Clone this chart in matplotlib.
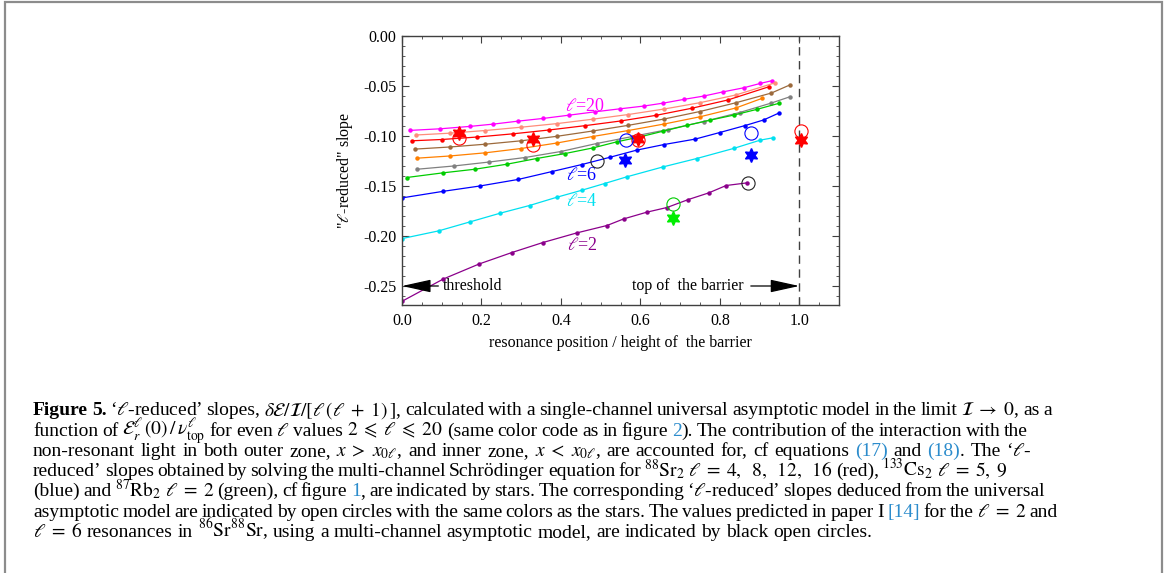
import numpy as np
import matplotlib
matplotlib.use("Agg")
import matplotlib.pyplot as plt
from matplotlib.patches import Rectangle, FancyArrowPatch
from matplotlib.ticker import MultipleLocator, FormatStrFormatter

plt.rcParams["font.family"] = ["Liberation Serif", "DejaVu Serif"]
plt.rcParams["mathtext.fontset"] = "stix"
plt.rcParams["axes.unicode_minus"] = True

# --- curves of the universal asymptotic model (even l) ---
x_l20 = [0.020, 0.096, 0.171, 0.230, 0.293, 0.356, 0.420, 0.486, 0.549, 0.608, 0.658, 0.709, 0.759, 0.809, 0.860, 0.902, 0.931]
y_l20 = [-0.0944, -0.0928, -0.0904, -0.0881, -0.0851, -0.0824, -0.0792, -0.0758, -0.0728, -0.0701, -0.0671, -0.0634, -0.0601, -0.0558, -0.0518, -0.0474, -0.0447]

x_l18 = [0.035, 0.120, 0.210, 0.300, 0.390, 0.480, 0.570, 0.660, 0.750, 0.840, 0.940]
y_l18 = [-0.0990, -0.0972, -0.0945, -0.0912, -0.0876, -0.0832, -0.0785, -0.0730, -0.0667, -0.0590, -0.0467]

x_l16 = [0.024, 0.100, 0.190, 0.280, 0.370, 0.460, 0.550, 0.640, 0.730, 0.820, 0.924]
y_l16 = [-0.1048, -0.1035, -0.1010, -0.0978, -0.0940, -0.0897, -0.0850, -0.0793, -0.0722, -0.0640, -0.0507]

x_l14 = [0.033, 0.120, 0.210, 0.300, 0.390, 0.480, 0.570, 0.660, 0.750, 0.840, 0.930, 0.976]
y_l14 = [-0.1131, -0.1110, -0.1082, -0.1048, -0.1003, -0.0950, -0.0893, -0.0830, -0.0755, -0.0668, -0.0570, -0.0490]

x_l12 = [0.037, 0.120, 0.210, 0.300, 0.390, 0.480, 0.570, 0.660, 0.750, 0.840, 0.906]
y_l12 = [-0.1222, -0.1200, -0.1168, -0.1125, -0.1070, -0.1005, -0.0945, -0.0880, -0.0808, -0.0720, -0.0624]

x_l10 = [0.039, 0.130, 0.220, 0.310, 0.400, 0.490, 0.580, 0.670, 0.760, 0.850, 0.930, 0.977]
y_l10 = [-0.1332, -0.1300, -0.1260, -0.1215, -0.1155, -0.1075, -0.1005, -0.0935, -0.0855, -0.0765, -0.0670, -0.0607]

x_l8 = [0.012, 0.104, 0.184, 0.264, 0.339, 0.411, 0.482, 0.541, 0.600, 0.658, 0.717, 0.776, 0.835, 0.893, 0.948]
y_l8 = [-0.1415, -0.1368, -0.1332, -0.1282, -0.1225, -0.1175, -0.1118, -0.1058, -0.1008, -0.0951, -0.0894, -0.0841, -0.0791, -0.0734, -0.0674]

x_l6 = [0.000, 0.104, 0.196, 0.293, 0.377, 0.453, 0.524, 0.591, 0.660, 0.738, 0.800, 0.864, 0.910, 0.950]
y_l6 = [-0.1619, -0.1553, -0.1500, -0.1434, -0.1356, -0.1285, -0.1212, -0.1141, -0.1085, -0.1031, -0.0965, -0.0895, -0.0840, -0.0768]

x_l4 = [0.000, 0.092, 0.171, 0.247, 0.321, 0.390, 0.453, 0.510, 0.566, 0.658, 0.742, 0.835, 0.902, 0.934]
y_l4 = [-0.2026, -0.1949, -0.1859, -0.1772, -0.1695, -0.1612, -0.1542, -0.1475, -0.1408, -0.1308, -0.1225, -0.1124, -0.1041, -0.1018]

x_l2 = [0.000, 0.104, 0.194, 0.276, 0.354, 0.440, 0.516, 0.558, 0.616, 0.667, 0.721, 0.772, 0.816, 0.868]
y_l2 = [-0.2653, -0.2430, -0.2280, -0.2166, -0.2066, -0.1969, -0.1895, -0.1829, -0.1762, -0.1715, -0.1635, -0.1569, -0.1495, -0.1469]

curves = [
    (x_l20, y_l20, "#ff00ff"),
    (x_l18, y_l18, "#ff8c7a"),
    (x_l16, y_l16, "#ff0000"),
    (x_l14, y_l14, "#9c6a3c"),
    (x_l12, y_l12, "#ff8000"),
    (x_l10, y_l10, "#808080"),
    (x_l8, y_l8, "#00cc00"),
    (x_l6, y_l6, "#0000ff"),
    (x_l4, y_l4, "#00e0f0"),
    (x_l2, y_l2, "#8b008b"),
]

# --- multi-channel results (stars) and asymptotic model (circles) ---
star_red_x = [0.144, 0.331, 0.595, 1.004]
star_red_y = [-0.0965, -0.1031, -0.1031, -0.1035]
circ_red_x = [0.144, 0.331, 0.595, 1.005]
circ_red_y = [-0.1018, -0.1085, -0.1035, -0.0948]
star_blue_x = [0.562, 0.878]
star_blue_y = [-0.1241, -0.1185]
circ_blue_x = [0.564, 0.879]
circ_blue_y = [-0.1035, -0.0965]
star_green_x = [0.683]
star_green_y = [-0.1819]
circ_green_x = [0.683]
circ_green_y = [-0.1682]
circ_black_x = [0.490, 0.872]
circ_black_y = [-0.1248, -0.1469]

# curve labels: text, x, y, colour
curve_labels = [
    ("$\\ell$=20", 0.461, -0.0708, "#ff00ff"),
    ("$\\ell$=6", 0.453, -0.1392, "#0000ff"),
    ("$\\ell$=4", 0.453, -0.1650, "#00e0f0"),
    ("$\\ell$=2", 0.453, -0.2100, "#8b008b"),
]

# caption, one list of words per line; "!" = bold, text between "§" = link colour
caption_lines = [
    ["!Figure", "!5.", "‘$\\ell$-reduced’", "slopes,", "$\\delta\\mathcal{E}/\\mathcal{I}/[\\ell\\,(\\ell\\;+\\;1)\\,]$,",
     "calculated", "with", "a", "single-channel", "universal", "asymptotic", "model", "in", "the", "limit",
     "$\\mathcal{I}\\;\\to\\;0$,", "as", "a"],
    ["function", "of", "$\\mathcal{E}_r^{\\ell}\\,(0)\\,/\\,\\nu_{\\mathrm{top}}^{\\ell}$", "for", "even", "$\\ell$",
     "values", "$2\\;\\leqslant\\;\\ell\\;\\leqslant\\;20$", "(same", "color", "code", "as", "in", "figure", "§2§).", "The",
     "contribution", "of", "the", "interaction", "with", "the"],
    ["non-resonant", "light", "in", "both", "outer", "zone,", "$x\\;>\\;x_{0\\ell}$,", "and", "inner", "zone,",
     "$x\\;<\\;x_{0\\ell}$,", "are", "accounted", "for,", "cf", "equations", "§(17)§", "and", "§(18)§.", "The", "‘$\\ell$-"],
    ["reduced’", "slopes", "obtained", "by", "solving", "the", "multi-channel", "Schrödinger", "equation", "for",
     "${}^{88}\\mathrm{Sr}_2$", "$\\ell\\;=\\;4,\\;\\;8,\\;\\;12,\\;\\;16$", "(red),", "${}^{133}\\mathrm{Cs}_2$",
     "$\\ell\\;=\\;5,\\;9$"],
    ["(blue)", "and", "${}^{87}\\mathrm{Rb}_2$", "$\\ell\\;=\\;2$", "(green),", "cf", "figure", "§1§,", "are", "indicated",
     "by", "stars.", "The", "corresponding", "‘$\\ell$-reduced’", "slopes", "deduced", "from", "the", "universal"],
    ["asymptotic", "model", "are", "indicated", "by", "open", "circles", "with", "the", "same", "colors", "as", "the",
     "stars.", "The", "values", "predicted", "in", "paper", "I", "§[14]§", "for", "the", "$\\ell\\;=\\;2$", "and"],
    ["$\\ell\\;=\\;6$", "resonances", "in", "${}^{86}\\mathrm{Sr}^{88}\\mathrm{Sr}$,", "using", "a", "multi-channel",
     "asymptotic", "model,", "are", "indicated", "by", "black", "open", "circles."],
]
# right edge (pixels) of each justified line, None = ragged last line
caption_right = [1052, 1028, 1032, 1007, 1045, 1058, None]

W, H = 1165, 573
fig = plt.figure(figsize=(W / 100, H / 100), dpi=100)
fig.patch.set_facecolor("white")

# page frame
fig.add_artist(Rectangle((5 / W, -0.05), 1157 / W, 1 - 2 / H + 0.05, transform=fig.transFigure,
                         fill=False, edgecolor="#8c8c8c", linewidth=1.6))

ax = fig.add_axes([402 / W, 1 - 305 / H, 437 / W, 269 / H])
frame_col = "#404040"

for xs, ys, col in curves:
    ax.plot(xs, ys, color=col, lw=0.9, marker="o", ms=2.2, mec=col, mfc=col, zorder=2)

ax.axvline(1.0, color="#404040", lw=1.0, dashes=(6, 4), zorder=1)

star = (6, 1, 0)
ax.plot(star_red_x, star_red_y, ls="none", marker=star, ms=10, color="#ff0000", zorder=4)
ax.plot(star_blue_x, star_blue_y, ls="none", marker=star, ms=10, color="#0000ff", zorder=4)
ax.plot(star_green_x, star_green_y, ls="none", marker=star, ms=10, color="#00ee00", zorder=4)
ax.plot(circ_red_x, circ_red_y, ls="none", marker="o", ms=9.5, mfc="none", mec="#ff0000", mew=0.8, zorder=5)
ax.plot(circ_blue_x, circ_blue_y, ls="none", marker="o", ms=9.5, mfc="none", mec="#0000ff", mew=0.8, zorder=5)
ax.plot(circ_green_x, circ_green_y, ls="none", marker="o", ms=9.5, mfc="none", mec="#00cc00", mew=0.8, zorder=5)
ax.plot(circ_black_x, circ_black_y, ls="none", marker="o", ms=9.5, mfc="none", mec="#222222", mew=0.8, zorder=5)

for txt, lx, ly, col in curve_labels:
    ax.text(lx, ly, txt, color=col, fontsize=13, ha="center", va="center")

# threshold / top of barrier annotations
ax.add_patch(FancyArrowPatch((0.0915, -0.25), (0.0, -0.25), arrowstyle="-|>,head_length=1.0,head_width=0.22",
                             mutation_scale=18, color="black", lw=0.9, shrinkA=0, shrinkB=0, zorder=6))
ax.text(0.104, -0.25, "threshold", fontsize=11.5, ha="left", va="center")
ax.add_patch(FancyArrowPatch((0.878, -0.25), (1.0, -0.25), arrowstyle="-|>,head_length=1.0,head_width=0.22",
                             mutation_scale=18, color="black", lw=0.9, shrinkA=0, shrinkB=0, zorder=6))
ax.text(0.861, -0.25, "top of  the barrier", fontsize=11.5, ha="right", va="center")

ax.set_xlim(0.0, 1.10)
ax.set_ylim(-0.269, 0.0)
ax.xaxis.set_major_locator(MultipleLocator(0.2))
ax.xaxis.set_minor_locator(MultipleLocator(0.05))
ax.yaxis.set_major_locator(MultipleLocator(0.05))
ax.yaxis.set_minor_locator(MultipleLocator(0.01))
ax.xaxis.set_major_formatter(FormatStrFormatter("%.1f"))
ax.yaxis.set_major_formatter(FormatStrFormatter("%.2f"))
ax.tick_params(which="both", direction="in", top=True, right=True, color=frame_col, labelsize=11.5)
ax.tick_params(which="major", length=5, width=0.8)
ax.tick_params(which="minor", length=2.5, width=0.6)
ax.tick_params(axis="y", pad=4)
ax.tick_params(axis="x", pad=6)
for sp in ax.spines.values():
    sp.set_color(frame_col)
    sp.set_linewidth(1.0)

ax.set_xlabel("resonance position / height of  the barrier", fontsize=11.5, labelpad=4)
ax.set_ylabel("\"$\\ell$-reduced\" slope", fontsize=11.5, labelpad=6)

# caption, justified word by word
renderer = fig.canvas.get_renderer()
cap_size = 14
link_col = "#2c8ccc"
x_left = 33
base0 = 415.3
step = 20.25


def make_word(word, x, y):
    bold = word.startswith("!")
    if bold:
        word = word[1:]
    parts = word.split("§")
    cur = x
    for i, part in enumerate(parts):
        if not part:
            continue
        t = fig.text(cur / W, 1 - y / H, part, fontsize=cap_size, va="baseline", ha="left",
                     color=link_col if i % 2 else "black", fontweight="bold" if bold else "normal")
        cur += t.get_window_extent(renderer).width
    return cur - x


for i, words in enumerate(caption_lines):
    y = base0 + step * i
    # measure with throw-away texts
    probe = [fig.text(0, 0, w.lstrip("!").replace("§", ""), fontsize=cap_size,
                      fontweight="bold" if w.startswith("!") else "normal") for w in words]
    widths = [p.get_window_extent(renderer).width for p in probe]
    for p in probe:
        p.remove()
    natural_gap = cap_size * 0.25 * 100 / 72
    if caption_right[i] is None:
        gap = natural_gap
    else:
        gap = (caption_right[i] - x_left - sum(widths)) / (len(words) - 1)
        gap = max(gap, 2.0)
    x = x_left
    for w, wd in zip(words, widths):
        make_word(w, x, y)
        x += wd + gap

fig.savefig("out.png", dpi=100, facecolor="white")
